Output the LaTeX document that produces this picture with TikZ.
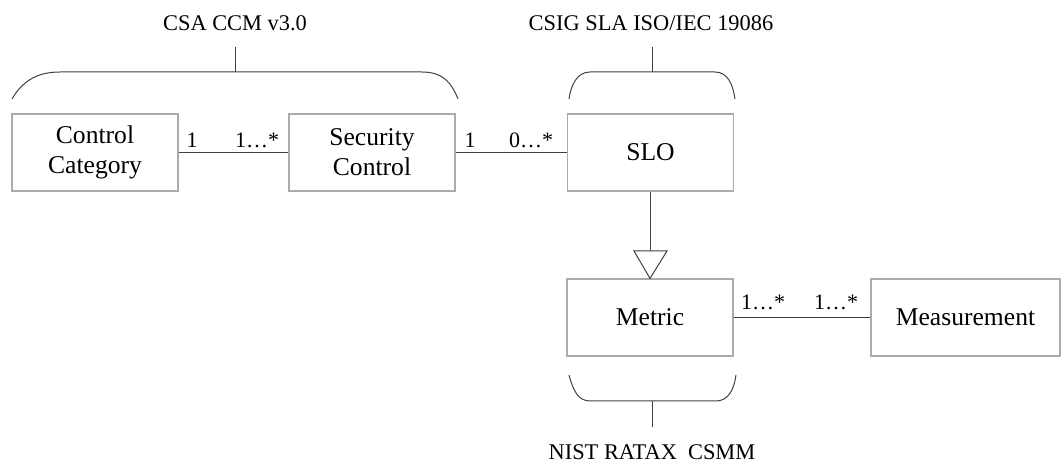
\documentclass[tikz,border=0pt]{standalone}
\usepackage{fontspec}
\setmainfont{Liberation Serif}
\definecolor{boxline}{HTML}{ABABAB}
\definecolor{wire}{HTML}{404040}
\begin{document}
\begin{tikzpicture}[x=0.75pt,y=-0.75pt,
  entity/.style={draw=boxline,line width=0.8pt,inner sep=0pt,
    minimum width=124.5pt,minimum height=57.75pt,align=center,
    font=\fontsize{19.2}{22.5}\selectfont},
  wideentity/.style={entity,minimum width=141.75pt},
  assoc/.style={draw=wire,line width=0.75pt},
  mult/.style={inner sep=0pt,font=\fontsize{16.5}{18}\selectfont},
  brace/.style={draw=wire,line width=0.75pt},
  stdname/.style={inner sep=0pt,font=\fontsize{16.8}{18}\selectfont}]
\useasboundingbox (0,0) rectangle (1061,463);

% classes
\node[entity] (cat)  at (95,152.5)    {Control\\Category};
\node[entity] (ctl)  at (372,152.5)   {Security\\Control};
\node[entity] (slo)  at (650.5,152.5) {SLO};
\node[entity] (met)  at (650,317.5)   {Metric};
\node[wideentity] (mea) at (965.5,317.5) {Measurement};

% associations
\draw[assoc] (cat) -- (ctl);
\draw[assoc] (ctl) -- (slo);
\draw[assoc] (met) -- (mea);

% generalisation: SLO specialises into Metric
\coordinate (trileft)  at (634,251);
\coordinate (triright) at (667,251);
\coordinate (tribase)  at (650,251);
\draw[assoc] (slo.south -| tribase) -- (tribase);
\draw[assoc,fill=white,line join=miter] (trileft) -- (triright) -- (met.north -| tribase) -- cycle;

% multiplicities
\node[mult] (m1) at (192,140) {1};
\node[mult] (m2) at (257,140) {1\ldots*};
\node[mult] (m3) at (470,140) {1};
\node[mult] (m4) at (531,140) {0\ldots*};
\node[mult] (m5) at (763,302) {1\ldots*};
\node[mult] (m6) at (836,302) {1\ldots*};

% standard groupings
\node[stdname] (ccm) at (235,23) {CSA CCM v3.0};
\coordinate (ccmtop) at (235,47);
\coordinate (ccmmid) at (235,72);
\draw[brace] (12,99) .. controls (22,82) and (36,72) .. (60,72) -- (422,72)
  .. controls (444,72) and (452,84) .. (458,99);
\draw[brace] (ccmtop) -- (ccmmid);

\node[stdname] (sla) at (651,23) {CSIG SLA ISO/IEC 19086};
\coordinate (slatop) at (652,47);
\coordinate (slamid) at (652,72);
\draw[brace] (569,99) .. controls (571,85) and (577,72) .. (590,72) -- (715,72)
  .. controls (728,72) and (733,85) .. (735,99);
\draw[brace] (slatop) -- (slamid);

\node[stdname] (nist) at (652,452) {NIST RATAX\ \ CSMM};
\coordinate (nisttop) at (652,401);
\coordinate (nistbot) at (652,427);
\draw[brace] (569,375) .. controls (573,390) and (578,401) .. (590,401) -- (716,401)
  .. controls (728,401) and (734,390) .. (736,375);
\draw[brace] (nisttop) -- (nistbot);
\end{tikzpicture}
\end{document}
